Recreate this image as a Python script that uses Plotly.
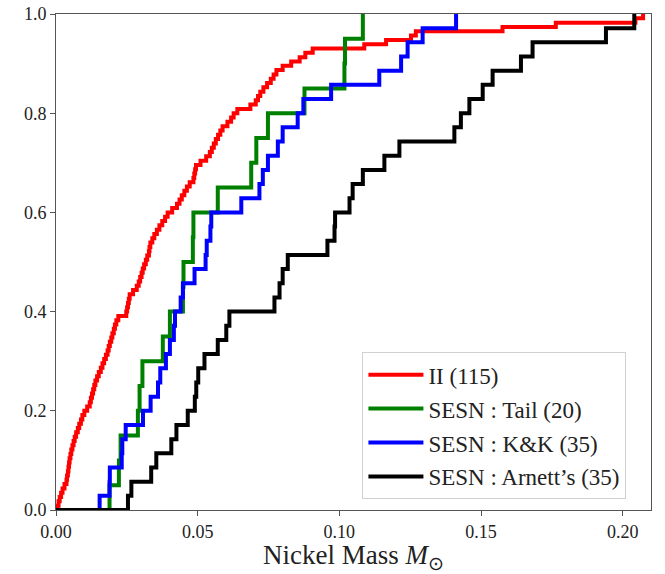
import plotly.graph_objects as go

# Nickel masses (Msun) read from the cumulative-distribution steps
ii_masses = [0.0004, 0.0009, 0.0013, 0.0018, 0.0023, 0.0030, 0.0037, 0.0039, 0.0042, 0.0044,
             0.0046, 0.0048, 0.0051, 0.0054, 0.0058, 0.0062, 0.0066, 0.0071, 0.0077, 0.0082,
             0.0088, 0.0093, 0.0100, 0.0110, 0.0119, 0.0123, 0.0127, 0.0131, 0.0135, 0.0139,
             0.0145, 0.0151, 0.0158, 0.0164, 0.0170, 0.0176, 0.0182, 0.0186, 0.0190, 0.0195,
             0.0199, 0.0204, 0.0208, 0.0213, 0.0220, 0.0248, 0.0251, 0.0254, 0.0257, 0.0260,
             0.0272, 0.0285, 0.0292, 0.0297, 0.0302, 0.0306, 0.0311, 0.0317, 0.0322, 0.0328,
             0.0330, 0.0333, 0.0340, 0.0347, 0.0356, 0.0365, 0.0375, 0.0385, 0.0394, 0.0410,
             0.0427, 0.0436, 0.0444, 0.0453, 0.0462, 0.0472, 0.0485, 0.0488, 0.0491, 0.0494,
             0.0510, 0.0530, 0.0543, 0.0550, 0.0557, 0.0564, 0.0572, 0.0580, 0.0588, 0.0605,
             0.0618, 0.0627, 0.0640, 0.0686, 0.0705, 0.0713, 0.0721, 0.0732, 0.0745, 0.0758,
             0.0768, 0.0778, 0.0800, 0.0830, 0.0860, 0.0880, 0.0906, 0.1088, 0.1165, 0.1253,
             0.1270, 0.1576, 0.1764, 0.2045, 0.2072]

tail_masses = [0.0189, 0.0222, 0.0228, 0.0289, 0.0295, 0.0305, 0.0377, 0.0402, 0.0448, 0.0450,
               0.0483, 0.0485, 0.0571, 0.0689, 0.0707, 0.0748, 0.0877, 0.1018, 0.1020, 0.1083]

kk_masses = [0.0154, 0.0189, 0.0190, 0.0232, 0.0234, 0.0246, 0.0307, 0.0334, 0.0360, 0.0368,
             0.0388, 0.0402, 0.0416, 0.0420, 0.0440, 0.0448, 0.0489, 0.0528, 0.0532, 0.0545,
             0.0548, 0.0654, 0.0718, 0.0730, 0.0748, 0.0783, 0.0800, 0.0853, 0.0873, 0.0971,
             0.1141, 0.1218, 0.1241, 0.1294, 0.1412]

arnett_masses = [0.0254, 0.0266, 0.0336, 0.0354, 0.0407, 0.0425, 0.0465, 0.0490, 0.0495, 0.0502,
                 0.0524, 0.0571, 0.0601, 0.0612, 0.0771, 0.0789, 0.0800, 0.0818, 0.0958, 0.0983,
                 0.0985, 0.1036, 0.1047, 0.1083, 0.1159, 0.1212, 0.1406, 0.1429, 0.1459, 0.1506,
                 0.1541, 0.1641, 0.1682, 0.1941, 0.2041]

series_names = ["II (115)", "SESN : Tail (20)", "SESN : K&amp;K (35)", "SESN : Arnett’s (35)"]
series_colors = ["#ff0000", "#008000", "#0000ff", "#000000"]
series_data = [ii_masses, tail_masses, kk_masses, arnett_masses]

x_ticks = [0.0, 0.05, 0.10, 0.15, 0.20]
y_ticks = [0.0, 0.2, 0.4, 0.6, 0.8, 1.0]

fig = go.Figure()
for i, (name, color, vals) in enumerate(zip(series_names, series_colors, series_data)):
    s = sorted(vals)
    n = len(s)
    xs = [0.0] + s
    ys = [k / n for k in range(n + 1)]
    fig.add_trace(go.Scatter(x=xs, y=ys, mode="lines", name=name,
                             line=dict(color=color, width=4, shape="hv"),
                             legendgroup=f"g{i}"))

font_family = "Liberation Serif"
axis_common = dict(showline=True, linecolor="#555555", linewidth=1, mirror=True,
                   ticks="outside", ticklen=5, tickcolor="#555555", showgrid=False,
                   zeroline=False, automargin=False,
                   tickfont=dict(family=font_family, size=18, color="#222"))

fig.update_layout(
    width=665, height=574,
    margin=dict(l=56, r=14, t=14, b=64),
    plot_bgcolor="white", paper_bgcolor="white",
    xaxis=dict(range=[0, 0.21], tickvals=x_ticks, tickformat=".2f",
               title=dict(text="Nickel Mass <i>M</i><sub>⊙</sub>",
                          font=dict(family=font_family, size=27, color="#222"), standoff=4),
               **axis_common),
    yaxis=dict(range=[0, 1.0], tickvals=y_ticks, tickformat=".1f", **axis_common),
    legend=dict(x=0.515, y=0.318, xanchor="left", yanchor="top",
                bgcolor="white", bordercolor="#d0d0d0", borderwidth=1,
                font=dict(family=font_family, size=23, color="#222"),
                itemwidth=55,
                traceorder="grouped", tracegroupgap=1),
    showlegend=True,
)

fig.write_html("out.html")
